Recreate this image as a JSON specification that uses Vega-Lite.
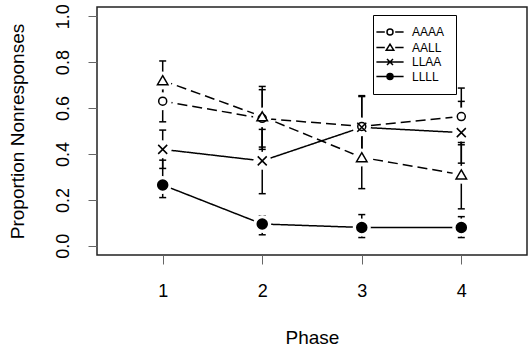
{
  "$schema": "https://vega.github.io/schema/vega-lite/v6.json",
  "width": 430,
  "height": 248,
  "autosize": {"type": "none"},
  "padding": {"left": 97, "top": 7, "right": 1, "bottom": 98},
  "config": {
    "view": {"stroke": "#222", "strokeWidth": 1.5},
    "font": "Liberation Sans",
    "axis": {"grid": false, "domain": false, "tickSize": 9, "tickColor": "#666", "tickWidth": 1, "labelFontSize": 18, "labelColor": "black", "titleFontSize": 19, "titleFontWeight": "normal", "titleColor": "black", "labelFlush": false}
  },
  "data": {
    "values": [
      {"series": "AAAA", "phase": 1, "p": 0.63, "lo": 0.54, "hi": 0.70},
      {"series": "AAAA", "phase": 2, "p": 0.555, "lo": 0.42, "hi": 0.68},
      {"series": "AAAA", "phase": 3, "p": 0.52, "lo": 0.39, "hi": 0.65},
      {"series": "AAAA", "phase": 4, "p": 0.563, "lo": 0.44, "hi": 0.687},
      {"series": "AALL", "phase": 1, "p": 0.72, "lo": 0.63, "hi": 0.805},
      {"series": "AALL", "phase": 2, "p": 0.563, "lo": 0.43, "hi": 0.694},
      {"series": "AALL", "phase": 3, "p": 0.385, "lo": 0.249, "hi": 0.52},
      {"series": "AALL", "phase": 4, "p": 0.31, "lo": 0.161, "hi": 0.45},
      {"series": "LLAA", "phase": 1, "p": 0.42, "lo": 0.337, "hi": 0.504},
      {"series": "LLAA", "phase": 2, "p": 0.37, "lo": 0.227, "hi": 0.507},
      {"series": "LLAA", "phase": 3, "p": 0.516, "lo": 0.38, "hi": 0.654},
      {"series": "LLAA", "phase": 4, "p": 0.493, "lo": 0.36, "hi": 0.629},
      {"series": "LLLL", "phase": 1, "p": 0.265, "lo": 0.21, "hi": 0.373},
      {"series": "LLLL", "phase": 2, "p": 0.095, "lo": 0.048, "hi": 0.13},
      {"series": "LLLL", "phase": 3, "p": 0.08, "lo": 0.036, "hi": 0.136},
      {"series": "LLLL", "phase": 4, "p": 0.08, "lo": 0.036, "hi": 0.127}
    ]
  },
  "encoding": {
    "x": {
      "field": "phase", "type": "quantitative",
      "scale": {"domain": [0.34, 4.66], "nice": false, "zero": false},
      "axis": {"values": [1, 2, 3, 4], "format": "d", "title": "Phase", "labelPadding": 18, "titleX": 215, "titleY": 82, "titleBaseline": "middle", "titleAlign": "center"}
    }
  },
  "layer": [
    {
      "mark": {"type": "line", "color": "black", "strokeWidth": 1.5},
      "encoding": {
        "y": {"field": "p", "type": "quantitative", "title": "Proportion Nonresponses",
          "scale": {"domain": [-0.04, 1.04], "nice": false, "zero": false},
          "axis": {"values": [0, 0.2, 0.4, 0.6, 0.8, 1], "format": ".1f", "labelAngle": -90, "labelAlign": "center", "labelBaseline": "bottom", "labelPadding": 16, "titleX": -80, "titleY": 124, "titleAngle": -90, "titleBaseline": "middle", "titleAlign": "center"}},
        "strokeDash": {"field": "series", "type": "nominal", "legend": null,
          "scale": {"domain": ["AAAA", "AALL", "LLAA", "LLLL"], "range": [[10, 5], [10, 5], [1, 0], [1, 0]]}}
      }
    },
    {
      "mark": {"type": "rule", "color": "black", "strokeWidth": 1.5},
      "encoding": {
        "y": {"field": "lo", "type": "quantitative", "title": "Proportion Nonresponses"},
        "y2": {"field": "hi"}
      }
    },
    {
      "mark": {"type": "tick", "orient": "horizontal", "color": "black", "size": 7, "thickness": 1.5, "opacity": 1},
      "encoding": {"y": {"field": "lo", "type": "quantitative", "title": "Proportion Nonresponses"}}
    },
    {
      "mark": {"type": "tick", "orient": "horizontal", "color": "black", "size": 7, "thickness": 1.5, "opacity": 1},
      "encoding": {"y": {"field": "hi", "type": "quantitative", "title": "Proportion Nonresponses"}}
    },
    {
      "mark": {"type": "point", "shape": "circle", "filled": true, "fill": "white", "stroke": null, "size": 324, "opacity": 1, "fillOpacity": 1},
      "encoding": {"y": {"field": "p", "type": "quantitative", "title": "Proportion Nonresponses"}}
    },
    {
      "mark": {"type": "point", "filled": true, "stroke": "black", "strokeWidth": 1.5, "size": 100, "opacity": 1},
      "encoding": {
        "y": {"field": "p", "type": "quantitative", "title": "Proportion Nonresponses"},
        "shape": {"field": "series", "type": "nominal", "legend": null,
          "scale": {"domain": ["AAAA", "AALL", "LLAA", "LLLL"], "range": ["M0.8,0A0.8,0.8,0,1,1,-0.8,0A0.8,0.8,0,1,1,0.8,0Z", "M0,-0.95L1.05,0.85L-1.05,0.85Z", "M-0.9,-0.9L0.9,0.9M-0.9,0.9L0.9,-0.9", "M1,0A1,1,0,1,1,-1,0A1,1,0,1,1,1,0Z"]}},
        "fill": {"field": "series", "type": "nominal", "legend": null,
          "scale": {"domain": ["AAAA", "AALL", "LLAA", "LLLL"], "range": ["white", "white", "white", "black"]}}
      }
    },
    {
      "transform": [{"filter": "datum.series == 'none'"}],
      "mark": {"type": "point", "filled": true, "strokeWidth": 1.5, "size": 64, "opacity": 1},
      "encoding": {
        "y": {"field": "p", "type": "quantitative", "title": "Proportion Nonresponses"},
        "shape": {"field": "series", "type": "nominal",
          "scale": {"domain": ["AAAA", "AALL", "LLAA", "LLLL"], "range": [
            "M-3.4,0L-1.3,0M1.3,0L3.4,0M0.75,0A0.75,0.75,0,1,1,-0.75,0A0.75,0.75,0,1,1,0.75,0Z",
            "M-3.4,0L-1.3,0M1.3,0L3.4,0M0,-0.85L0.95,0.7L-0.95,0.7Z",
            "M-3.4,0L3.4,0M-0.75,-0.75L0.75,0.75M-0.75,0.75L0.75,-0.75",
            "M-3.4,0L3.4,0M0.75,0A0.75,0.75,0,1,1,-0.75,0A0.75,0.75,0,1,1,0.75,0Z"]},
          "legend": {"title": null, "orient": "none", "legendX": 276, "legendY": 8, "strokeColor": "black", "padding": 11, "labelFontSize": 12, "labelOffset": 16, "symbolSize": 64, "symbolStrokeWidth": 1.5, "rowPadding": 2.5, "labelColor": "black"}},
        "fill": {"field": "series", "type": "nominal",
          "scale": {"domain": ["AAAA", "AALL", "LLAA", "LLLL"], "range": ["white", "white", "white", "black"]},
          "legend": {"title": null, "orient": "none", "legendX": 276, "legendY": 8, "strokeColor": "black", "padding": 11, "labelFontSize": 12, "labelOffset": 16, "symbolSize": 64, "symbolStrokeWidth": 1.5, "rowPadding": 2.5, "labelColor": "black"}},
        "stroke": {"field": "series", "type": "nominal",
          "scale": {"domain": ["AAAA", "AALL", "LLAA", "LLLL"], "range": ["black", "black", "black", "black"]},
          "legend": {"title": null, "orient": "none", "legendX": 276, "legendY": 8, "strokeColor": "black", "padding": 11, "labelFontSize": 12, "labelOffset": 16, "symbolSize": 64, "symbolStrokeWidth": 1.5, "rowPadding": 2.5, "labelColor": "black"}}
      }
    }
  ],
  "resolve": {"scale": {"shape": "independent", "fill": "independent", "stroke": "independent"}}
}
